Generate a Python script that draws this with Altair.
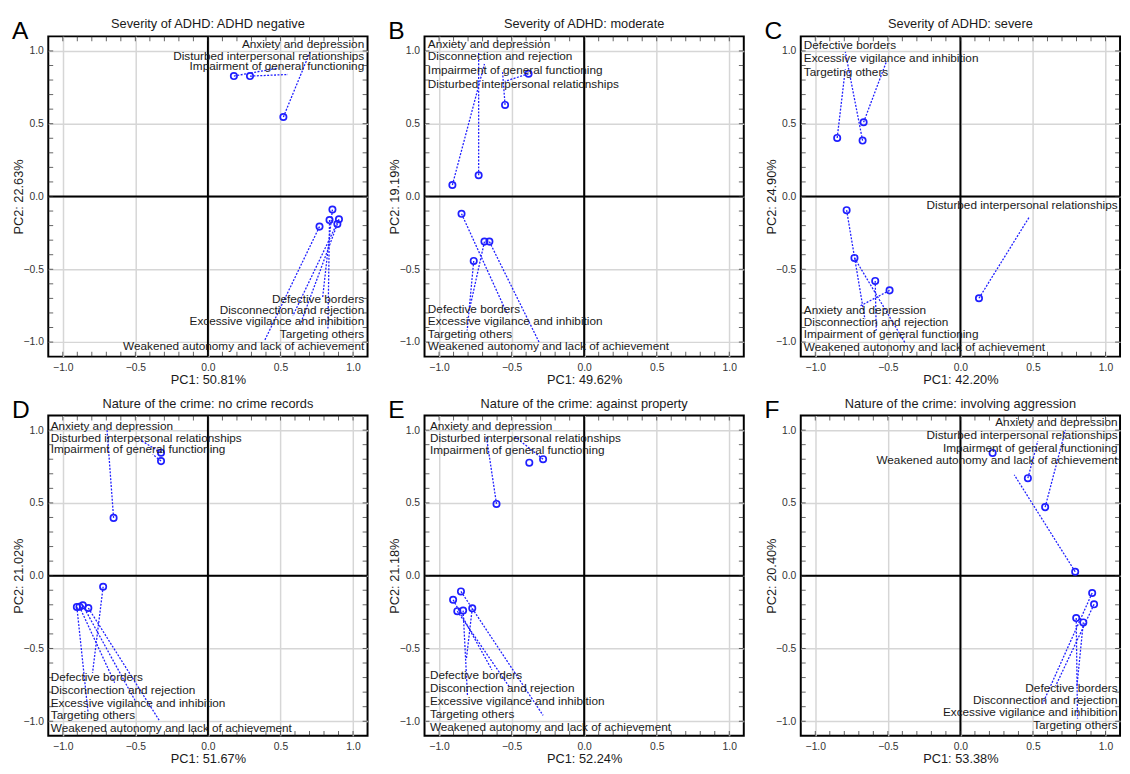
import altair as alt
import pandas as pd

AD = "Anxiety and depression"
DIR = "Disturbed interpersonal relationships"
IGF = "Impairment of general functioning"
DB = "Defective borders"
DR = "Disconnection and rejection"
EVI = "Excessive vigilance and inhibition"
TO = "Targeting others"
WAL = "Weakened autonomy and lack of achievement"

MAJOR = [-1.0, -0.5, 0.0, 0.5, 1.0]
MINOR = [-1.0, -0.9, -0.8, -0.7, -0.6, -0.5, -0.4, -0.3, -0.2, -0.1, 0.0,
         0.1, 0.2, 0.3, 0.4, 0.5, 0.6, 0.7, 0.8, 0.9, 1.0]
ZERO = [0.0]

# ---- Panel A ----
A_title = "Severity of ADHD: ADHD negative"
A_xt, A_yt = "PC1: 50.81%", "PC2: 22.63%"
A_names = [AD, DIR, IGF, DB, DR, EVI, TO, WAL]
A_px = [0.52, 0.179, 0.29, 0.858, 0.903, 0.892, 0.838, 0.769]
A_py = [0.546, 0.827, 0.827, -0.09, -0.157, -0.189, -0.162, -0.207]
A_ex = [0.704, 0.485, 0.552, 0.79, 0.585, 0.64, 0.827, 0.391]
A_ey = [0.993, 0.883, 0.838, -0.70, -0.82, -0.87, -0.91, -0.989]
A_lx = [1.077, 1.077, 1.077, 1.077, 1.077, 1.077, 1.077, 1.077]
A_ly = [1.049, 0.962, 0.894, -0.708, -0.782, -0.858, -0.944, -1.027]
A_al = ["right"] * 8

# ---- Panel B ----
B_title = "Severity of ADHD: moderate"
B_xt, B_yt = "PC1: 49.62%", "PC2: 19.19%"
B_names = [AD, DR, IGF, DIR, DB, EVI, TO, WAL]
B_px = [-0.727, -0.908, -0.383, -0.545, -0.845, -0.687, -0.761, -0.653]
B_py = [0.146, 0.079, 0.843, 0.629, -0.119, -0.31, -0.443, -0.31]
B_ex = [-0.727, -0.687, -0.547, -0.563, -0.529, -0.79, -0.806, -0.311]
B_ey = [0.99, 0.91, 0.791, 0.865, -0.809, -0.775, -0.921, -1.0]
B_lx = [-1.077, -1.077, -1.077, -1.077, -1.077, -1.077, -1.077, -1.077]
B_ly = [1.049, 0.962, 0.865, 0.775, -0.771, -0.858, -0.944, -1.029]
B_al = ["left"] * 8

# ---- Panel C ----
C_title = "Severity of ADHD: severe"
C_xt, C_yt = "PC1: 42.20%", "PC2: 24.90%"
C_names = [DB, EVI, TO, DIR, AD, DR, IGF, WAL]
C_px = [-0.674, -0.667, -0.849, 0.128, -0.488, -0.784, -0.587, -0.73]
C_py = [0.384, 0.51, 0.402, -0.699, -0.645, -0.094, -0.58, -0.422]
C_ex = [-0.793, -0.512, -0.793, 0.476, -0.692, -0.658, -0.58, -0.378]
C_ey = [0.993, 0.921, 0.876, -0.139, -0.753, -0.843, -0.921, -1.011]
C_lx = [-1.079, -1.079, -1.079, 1.083, -1.079, -1.079, -1.079, -1.079]
C_ly = [1.04, 0.951, 0.858, -0.061, -0.78, -0.863, -0.948, -1.034]
C_al = ["left", "left", "left", "right", "left", "left", "left", "left"]

# ---- Panel D ----
D_title = "Nature of the crime: no crime records"
D_xt, D_yt = "PC1: 51.67%", "PC2: 21.02%"
D_names = [AD, DIR, IGF, DB, DR, EVI, TO, WAL]
D_px = [-0.65, -0.323, -0.323, -0.722, -0.885, -0.862, -0.903, -0.824]
D_py = [0.397, 0.845, 0.787, -0.076, -0.213, -0.204, -0.215, -0.222]
D_ex = [-0.695, -0.47, -0.38, -0.795, -0.643, -0.495, -0.825, -0.336]
D_ey = [1.002, 0.935, 0.834, -0.668, -0.735, -0.87, -0.948, -0.993]
D_lx = [-1.083, -1.083, -1.083, -1.083, -1.083, -1.083, -1.083, -1.083]
D_ly = [1.031, 0.946, 0.872, -0.695, -0.785, -0.872, -0.955, -1.047]
D_al = ["left"] * 8

# ---- Panel E ----
E_title = "Nature of the crime: against property"
E_xt, E_yt = "PC1: 52.24%", "PC2: 21.18%"
E_names = [AD, DIR, IGF, DB, DR, EVI, TO, WAL]
E_px = [-0.604, -0.283, -0.378, -0.771, -0.903, -0.874, -0.834, -0.849]
E_py = [0.493, 0.80, 0.776, -0.224, -0.166, -0.244, -0.24, -0.108]
E_ex = [-0.674, -0.479, -0.378, -0.811, -0.636, -0.512, -0.804, -0.283]
E_ey = [0.957, 0.957, 0.776, -0.567, -0.646, -0.769, -0.825, -0.96]
E_lx = [-1.063, -1.063, -1.063, -1.063, -1.063, -1.063, -1.063, -1.063]
E_ly = [1.031, 0.942, 0.863, -0.686, -0.774, -0.863, -0.948, -1.038]
E_al = ["left"] * 8

# ---- Panel F ----
F_title = "Nature of the crime: involving aggression"
F_xt, F_yt = "PC1: 53.38%", "PC2: 20.40%"
F_names = [AD, DIR, IGF, WAL, DB, DR, EVI, TO]
F_px = [0.584, 0.465, 0.222, 0.791, 0.921, 0.908, 0.847, 0.798]
F_py = [0.471, 0.67, 0.843, 0.027, -0.197, -0.119, -0.321, -0.291]
F_ex = [0.724, 0.533, 0.222, 0.371, 0.656, 0.566, 0.802, 0.807]
F_ey = [1.002, 0.924, 0.843, 0.693, -0.758, -0.881, -0.769, -0.982]
F_lx = [1.083, 1.083, 1.083, 1.083, 1.083, 1.083, 1.083, 1.083]
F_ly = [1.054, 0.964, 0.879, 0.796, -0.769, -0.852, -0.937, -1.027]
F_al = ["right"] * 8

W, H = 325, 326
DOM = [-1.1, 1.1]
BLUE = "#1f1fff"
TXT = "#1a1a1a"
FONT = "Liberation Sans"


def panel(letter, title, xt, yt, names, px, py, ex, ey, lx, ly, al):
    df = pd.DataFrame(dict(name=names, x=px, y=py, ex=ex, ey=ey, lx=lx, ly=ly, al=al))
    xs = alt.Scale(domain=DOM, nice=False, zero=False)
    ys = alt.Scale(domain=DOM, nice=False, zero=False)
    xax = alt.Axis(title=xt, values=MAJOR, format=".1f", grid=True, ticks=False,
                   domain=False, labelPadding=6, titleY=23, titleBaseline="middle")
    yax = alt.Axis(title=yt, values=MAJOR, format=".1f", grid=True, ticks=False,
                   domain=False, labelPadding=5, titleX=-30, titleBaseline="middle")
    X = lambda f: alt.X(f, scale=xs, axis=xax)
    Y = lambda f: alt.Y(f, scale=ys, axis=yax)
    zero = pd.DataFrame({"v": ZERO})
    minor = pd.DataFrame({"t": MINOR})
    one = pd.DataFrame({"t": [title], "l": [letter]})

    vrule = alt.Chart(zero).mark_rule(color="black", strokeWidth=2).encode(x=X("v:Q"))
    hrule = alt.Chart(zero).mark_rule(color="black", strokeWidth=2).encode(y=Y("v:Q"))
    tk = dict(color="#222", size=5, thickness=1)
    tb = alt.Chart(minor).mark_tick(orient="vertical", **tk).encode(
        x=X("t:Q"), y=alt.value(H - 2.5))
    tt = alt.Chart(minor).mark_tick(orient="vertical", **tk).encode(
        x=X("t:Q"), y=alt.value(2.5))
    tl = alt.Chart(minor).mark_tick(orient="horizontal", **tk).encode(
        y=Y("t:Q"), x=alt.value(2.5))
    tr = alt.Chart(minor).mark_tick(orient="horizontal", **tk).encode(
        y=Y("t:Q"), x=alt.value(W - 2.5))

    base = alt.Chart(df)
    lines = base.mark_rule(color=BLUE, strokeWidth=1.3, strokeDash=[2, 1.5]).encode(
        x=X("x:Q"), y=Y("y:Q"), x2="ex:Q", y2="ey:Q")
    pts = base.mark_point(shape="circle", filled=False, size=42, strokeWidth=1.7,
                          color=BLUE, opacity=1).encode(x=X("x:Q"), y=Y("y:Q"))
    tleft = base.transform_filter(alt.datum.al == "left").mark_text(
        align="left", baseline="middle", font=FONT, fontSize=12, color=TXT).encode(
        x=X("lx:Q"), y=Y("ly:Q"), text="name:N")
    tright = base.transform_filter(alt.datum.al == "right").mark_text(
        align="right", baseline="middle", font=FONT, fontSize=12, color=TXT).encode(
        x=X("lx:Q"), y=Y("ly:Q"), text="name:N")
    ttl = alt.Chart(one).mark_text(align="center", baseline="middle", font=FONT,
                                   fontSize=13, color=TXT).encode(
        x=alt.value(W / 2), y=alt.value(-12), text="t:N")
    let = alt.Chart(one).mark_text(align="left", baseline="alphabetic", font=FONT,
                                   fontSize=25, color="black").encode(
        x=alt.value(-37), y=alt.value(3), text="l:N")
    return alt.layer(vrule, hrule, tb, tt, tl, tr, lines, pts, tleft, tright, ttl, let).properties(
        width=W, height=H)


pA = panel("A", A_title, A_xt, A_yt, A_names, A_px, A_py, A_ex, A_ey, A_lx, A_ly, A_al)
pB = panel("B", B_title, B_xt, B_yt, B_names, B_px, B_py, B_ex, B_ey, B_lx, B_ly, B_al)
pC = panel("C", C_title, C_xt, C_yt, C_names, C_px, C_py, C_ex, C_ey, C_lx, C_ly, C_al)
pD = panel("D", D_title, D_xt, D_yt, D_names, D_px, D_py, D_ex, D_ey, D_lx, D_ly, D_al)
pE = panel("E", E_title, E_xt, E_yt, E_names, E_px, E_py, E_ex, E_ey, E_lx, E_ly, E_al)
pF = panel("F", F_title, F_xt, F_yt, F_names, F_px, F_py, F_ex, F_ey, F_lx, F_ly, F_al)

row1 = alt.hconcat(pA, pB, pC, spacing=18)
row2 = alt.hconcat(pD, pE, pF, spacing=18)
chart = alt.vconcat(row1, row2, spacing=10).properties(
    padding={"left": 3, "top": 3, "right": 0, "bottom": 0}
).configure_view(stroke="black", strokeWidth=2).configure_axis(
    labelFont=FONT, labelFontSize=10.5, labelColor="#333",
    titleFont=FONT, titleFontSize=13, titleFontWeight="normal", titleColor=TXT,
    gridColor="#d6d6d6", gridWidth=1.5)

chart.save("out.html", embed_options={"renderer": "svg", "actions": False})
